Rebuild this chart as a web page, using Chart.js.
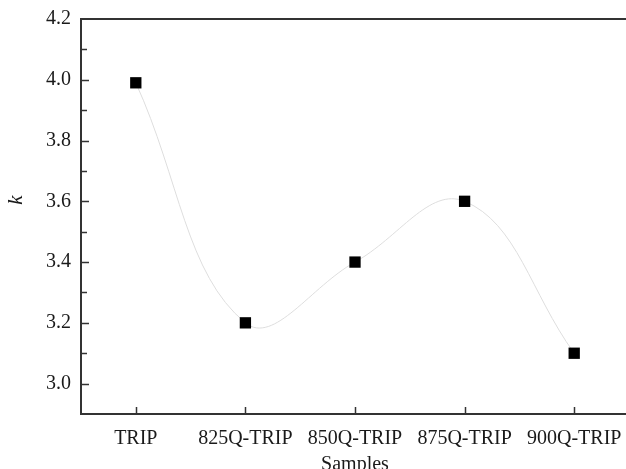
<!DOCTYPE html>
<html>
<head>
<meta charset="utf-8">
<script src="https://cdn.jsdelivr.net/npm/chart.js@4/dist/chart.umd.min.js"></script>
<style>
  html, body { margin: 0; padding: 0; overflow: hidden; background: #fff; }
  canvas { display: block; }
</style>
</head>
<body>
<canvas id="kChart" width="637" height="480"></canvas>
<script>
// ---------- DATA ----------
const samples = ["TRIP", "825Q-TRIP", "850Q-TRIP", "875Q-TRIP", "900Q-TRIP"];
const kValues = [3.99, 3.2, 3.4, 3.6, 3.1];
const yMin = 2.9;
const yMax = 4.2;

const FONT = "'Liberation Serif', 'Times New Roman', serif";
const INK = "#1a1a1a";

// inward ticks, frame and the rotated "k" label
const framePlugin = {
  id: "frame",
  afterDraw(chart) {
    const ctx = chart.ctx;
    const a = chart.chartArea;
    const x = chart.scales.x;
    const y = chart.scales.y;
    ctx.save();
    ctx.strokeStyle = "#333";
    ctx.lineWidth = 2;
    ctx.strokeRect(a.left, a.top, a.right - a.left, a.bottom - a.top);

    ctx.lineWidth = 1.5;
    y.ticks.forEach(t => {
      if (t.value < yMin + 0.05 || t.value > yMax - 0.05) return;
      const py = Math.round(y.getPixelForValue(t.value)) + 0.5;
      const major = Math.round(t.value * 10) % 2 === 0;
      ctx.beginPath();
      ctx.moveTo(a.left, py);
      ctx.lineTo(a.left + (major ? 8 : 6), py);
      ctx.stroke();
    });
    samples.forEach((s, i) => {
      const px = Math.round(x.getPixelForTick(i)) + 0.5;
      ctx.beginPath();
      ctx.moveTo(px, a.bottom);
      ctx.lineTo(px, a.bottom - 7);
      ctx.stroke();
    });

    // y title, turned like the original axis title
    ctx.fillStyle = INK;
    ctx.font = "italic 21px " + FONT;
    ctx.textAlign = "center";
    ctx.textBaseline = "middle";
    ctx.translate(16, 200);
    ctx.rotate(-Math.PI / 2);
    ctx.fillText("k", 0, 0);
    ctx.restore();
  }
};

// ---------- CHART ----------
new Chart(document.getElementById("kChart"), {
  type: "line",
  data: {
    labels: samples,
    datasets: [{
      data: kValues,
      borderColor: "#dedede",
      borderWidth: 1,
      tension: 0.4,
      pointStyle: "rect",
      pointRadius: 8,
      pointHoverRadius: 8,
      pointBackgroundColor: "#000",
      pointBorderColor: "#000",
      pointBorderWidth: 0,
      fill: false
    }]
  },
  options: {
    responsive: false,
    animation: false,
    layout: { padding: { top: 19, left: 0, right: 0, bottom: 0 } },
    plugins: {
      legend: { display: false },
      tooltip: { enabled: false }
    },
    scales: {
      x: {
        type: "category",
        offset: true,
        grid: { display: false },
        border: { display: false },
        ticks: {
          color: INK,
          padding: 5,
          maxRotation: 0,
          autoSkip: false,
          font: { family: FONT, size: 20 }
        },
        title: {
          display: true,
          text: "Samples",
          color: INK,
          padding: { top: 0, bottom: 3 },
          font: { family: FONT, size: 20 }
        },
        afterFit(scale) { scale.height = 66; }
      },
      y: {
        min: yMin,
        max: yMax,
        grid: { display: false },
        border: { display: false },
        ticks: {
          stepSize: 0.1,
          autoSkip: false,
          color: INK,
          padding: 2,
          font: { family: FONT, size: 20 },
          callback: v => (v > yMin + 0.05 && Math.round(v * 10) % 2 === 0) ? v.toFixed(1) : ""
        },
        afterFit(scale) { scale.width = 81; }
      }
    }
  },
  plugins: [framePlugin]
});
</script>
</body>
</html>
